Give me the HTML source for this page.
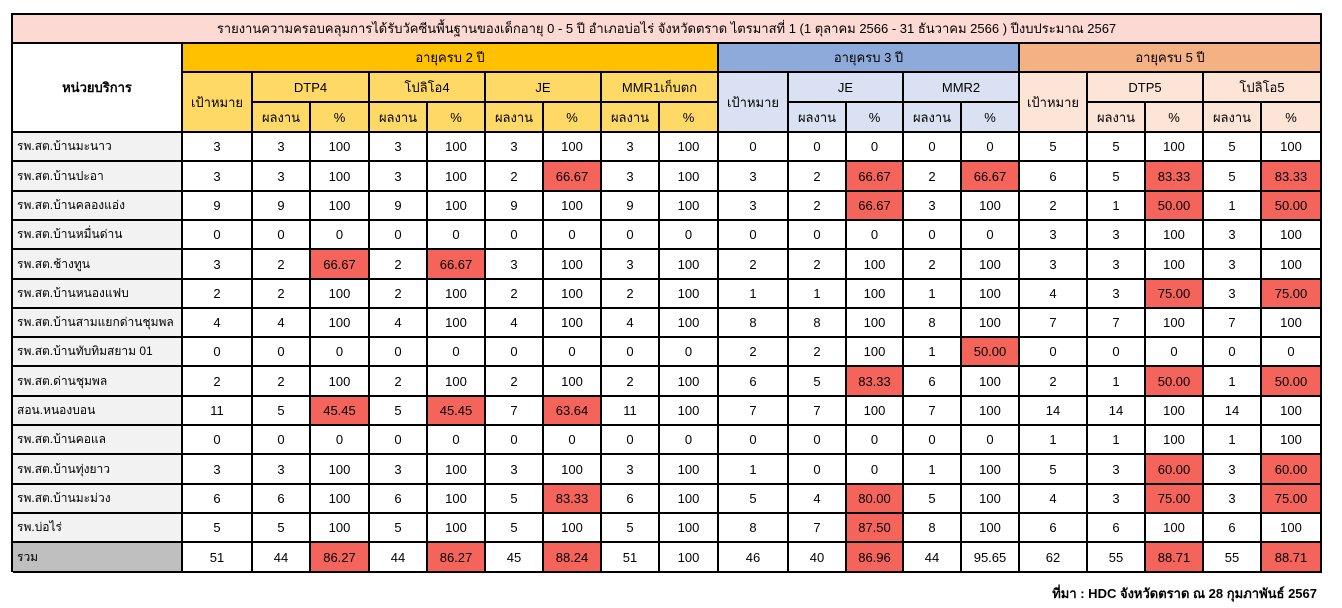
<!DOCTYPE html>
<html><head><meta charset="utf-8">
<style>
body{margin:0;background:#fff;width:1342px;height:608px;position:relative;overflow:hidden;font-family:"Liberation Sans","DejaVu Sans","Noto Sans CJK SC",sans-serif;}
.c{position:absolute;box-sizing:border-box;border-right:2px solid #000;border-bottom:2px solid #000;display:flex;align-items:center;justify-content:center;font-size:13px;color:#000;white-space:nowrap;overflow:hidden}
#frame{position:absolute;left:11px;top:13px;width:2px;height:559px;background:#000}
#frametop{position:absolute;left:11px;top:13px;width:1311px;height:2px;background:#000}
.r{background:#f4645a}
.nm{justify-content:flex-start;padding-left:4px;background:#f2f2f2;font-size:12px}
#foot{position:absolute;right:25px;top:583px;font-size:13px;font-weight:bold}
</style></head><body>
<div id="foot">ที่มา : HDC จังหวัดตราด ณ 28 กุมภาพันธ์ 2567</div>
<script>
const units=["รพ.สต.บ้านมะนาว","รพ.สต.บ้านปะอา","รพ.สต.บ้านคลองแอ่ง","รพ.สต.บ้านหมื่นด่าน","รพ.สต.ช้างทูน","รพ.สต.บ้านหนองแฟบ","รพ.สต.บ้านสามแยกด่านชุมพล","รพ.สต.บ้านทับทิมสยาม 01","รพ.สต.ด่านชุมพล","สอน.หนองบอน","รพ.สต.บ้านคอแล","รพ.สต.บ้านทุ่งยาว","รพ.สต.บ้านมะม่วง","รพ.บ่อไร่","รวม"];
const age2=[
["3","3","100","3","100","3","100","3","100"],
["3","3","100","3","100","2","66.67","3","100"],
["9","9","100","9","100","9","100","9","100"],
["0","0","0","0","0","0","0","0","0"],
["3","2","66.67","2","66.67","3","100","3","100"],
["2","2","100","2","100","2","100","2","100"],
["4","4","100","4","100","4","100","4","100"],
["0","0","0","0","0","0","0","0","0"],
["2","2","100","2","100","2","100","2","100"],
["11","5","45.45","5","45.45","7","63.64","11","100"],
["0","0","0","0","0","0","0","0","0"],
["3","3","100","3","100","3","100","3","100"],
["6","6","100","6","100","5","83.33","6","100"],
["5","5","100","5","100","5","100","5","100"],
["51","44","86.27","44","86.27","45","88.24","51","100"]];
const age3=[
["0","0","0","0","0"],["3","2","66.67","2","66.67"],["3","2","66.67","3","100"],["0","0","0","0","0"],
["2","2","100","2","100"],["1","1","100","1","100"],["8","8","100","8","100"],["2","2","100","1","50.00"],
["6","5","83.33","6","100"],["7","7","100","7","100"],["0","0","0","0","0"],["1","0","0","1","100"],
["5","4","80.00","5","100"],["8","7","87.50","8","100"],["46","40","86.96","44","95.65"]];
const age5=[
["5","5","100","5","100"],["6","5","83.33","5","83.33"],["2","1","50.00","1","50.00"],["3","3","100","3","100"],
["3","3","100","3","100"],["4","3","75.00","3","75.00"],["7","7","100","7","100"],["0","0","0","0","0"],
["2","1","50.00","1","50.00"],["14","14","100","14","100"],["1","1","100","1","100"],["5","3","60.00","3","60.00"],
["4","3","75.00","3","75.00"],["6","6","100","6","100"],["62","55","88.71","55","88.71"]];

const X=[13,183,253,311,370,428,486,544,602,660,719,789,847,904,962,1020,1088,1146,1204,1262,1322];
const Y=[15,44,73,103,133];
const RH=29.3;
function cell(x0,x1,y0,y1,txt,bg,name,extra){
  const d=document.createElement('div');
  d.className='c'+(extra?' '+extra:'');
  d.style.left=X[x0]+'px';d.style.width=(X[x1]-X[x0])+'px';
  d.style.top=y0+'px';d.style.height=(y1-y0)+'px';
  if(bg)d.style.background=bg;
  d.textContent=txt;
  
  
  document.body.appendChild(d);return d;
}
const Y2='#ffc000',Y1='#ffd966',B2='#8eaadb',B1='#d9e1f2',O2='#f4b183',O1='#fce4d6';
cell(0,20,Y[0],Y[1],'รายงานความครอบคลุมการได้รับวัคซีนพื้นฐานของเด็กอายุ 0 - 5 ปี อำเภอบ่อไร่ จังหวัดตราด ไตรมาสที่ 1 (1 ตุลาคม 2566 - 31 ธันวาคม 2566 ) ปีงบประมาณ 2567','#fcd9d3','report-title');
cell(0,1,Y[1],Y[4],'หน่วยบริการ','#fff','unit-header').style.fontWeight='bold';
cell(1,10,Y[1],Y[2],'อายุครบ 2 ปี',Y2,'age2-header');
cell(10,15,Y[1],Y[2],'อายุครบ 3 ปี',B2,'age3-header');
cell(15,20,Y[1],Y[2],'อายุครบ 5 ปี',O2,'age5-header');
const groups=[[1,['DTP4','โปลิโอ4','JE','MMR1เก็บตก'],Y1],[10,['JE','MMR2'],B1],[15,['DTP5','โปลิโอ5'],O1]];
groups.forEach(([s,vs,bg])=>{
  cell(s,s+1,Y[2],Y[4],'เป้าหมาย',bg,'target-header');
  vs.forEach((v,i)=>{
    const c=s+1+i*2;
    cell(c,c+2,Y[2],Y[3],v,bg,'vaccine-header');
    cell(c,c+1,Y[3],Y[4],'ผลงาน',bg,'result-header');
    cell(c+1,c+2,Y[3],Y[4],'%',bg,'percent-header');
  });
});
units.forEach((u,r)=>{
  const y0=Math.round(Y[4]+r*RH), y1=Math.round(Y[4]+(r+1)*RH);
  cell(0,1,y0,y1,u,r===units.length-1?'#bfbfbf':null,'unit-name','nm');
  const vals=age2[r].concat(age3[r],age5[r]);
  vals.forEach((v,i)=>{
    const red=v.indexOf('.')>=0&&parseFloat(v)<90;
    cell(i+1,i+2,y0,y1,v,red?'#f4645a':'#fff','data-cell');
  });
});
const f=document.createElement('div');
f.style.cssText='position:absolute;left:11px;top:13px;width:2px;height:559px;background:#000';


document.body.appendChild(f);
const t=document.createElement('div');
t.style.cssText='position:absolute;left:11px;top:13px;width:1311px;height:2px;background:#000';


document.body.appendChild(t);
</script>
</body></html>
